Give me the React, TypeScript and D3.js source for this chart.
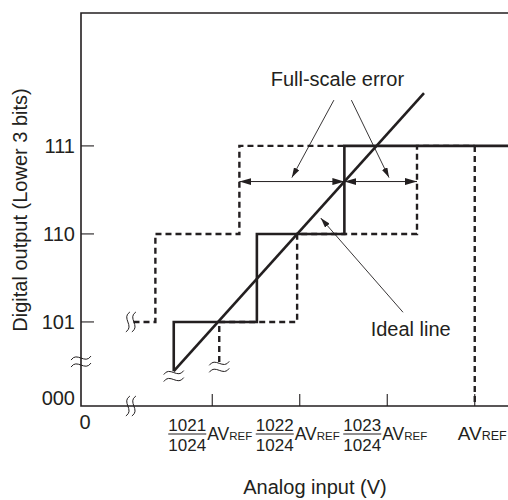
import React, { useEffect, useRef } from 'react';
import * as d3 from 'd3';

// y axis: output codes (step index) and their labels
const codeValues = [5, 6, 7];
const codeLabels = ['101', '110', '111'];

// x axis: analog input in LSB of 1024
const inputTicks = [1021, 1022, 1023, 1024];
const inputNumerators = ['1021', '1022', '1023', ''];

// visible window (axis is broken below it)
const xDomain = [1019.5, 1024.38];
const yDomain = [4.045, 8.51];

// actual characteristic (solid)
const actualX = [1020.56, 1020.56, 1021.51, 1022.51, 1024.38];
const actualCode = [4.44, 5, 6, 7, 7];

// characteristic shifted left (dashed)
const earlyX = [1020.1, 1020.35, 1021.31, 1022.51];
const earlyCode = [5, 6, 7, 7];

// characteristic shifted right (dashed)
const lateX = [1021.08, 1021.08, 1021.97, 1023.34, 1024];
const lateCode = [4.545, 5, 6, 7, 7];

// ideal line
const idealX = [1020.56, 1023.42];
const idealCode = [4.44, 7.6];

// full-scale error spans
const errorSpans = [[1021.31, 1022.51], [1022.51, 1023.34]];
const errorCode = 6.595;

const FONT = "'Liberation Sans', Arial, Helvetica, sans-serif";
const INK = '#231f20';

const App: React.FC = () => {
  const svgRef = useRef<SVGSVGElement | null>(null);
  const width = 508;
  const height = 500;

  useEffect(() => {
    if (!svgRef.current) return;
    const svg = d3.select(svgRef.current);
    svg.selectAll('*').remove();

    const x = d3.scaleLinear().domain(xDomain).range([81, 508]);
    const y = d3.scaleLinear().domain(yDomain).range([406, 13]);
    const x0 = x(xDomain[0]);
    const y0 = y(yDomain[0]);

    const defs = svg.append('defs');
    const mk = (id: string, len: number, half: number) =>
      defs.append('marker')
        .attr('id', id)
        .attr('markerUnits', 'userSpaceOnUse')
        .attr('viewBox', `0 ${-half} ${len} ${half * 2}`)
        .attr('refX', len)
        .attr('refY', 0)
        .attr('markerWidth', len)
        .attr('markerHeight', half * 2)
        .attr('orient', 'auto-start-reverse')
        .append('path')
        .attr('d', `M0,${-half}L${len},0L0,${half}Z`)
        .attr('fill', INK);
    mk('head', 12, 3.5);
    mk('thin', 10, 3);

    // frame
    svg.append('path')
      .attr('d', `M${x(xDomain[1])},${y(yDomain[1])}H${x0}V${y0}H${x(xDomain[1])}`)
      .attr('fill', 'none')
      .attr('stroke', INK)
      .attr('stroke-width', 1.6);

    // y ticks + labels
    codeValues.forEach((c, i) => {
      svg.append('line')
        .attr('x1', x0).attr('x2', x0 + 13)
        .attr('y1', y(c)).attr('y2', y(c))
        .attr('stroke', INK).attr('stroke-width', 1.1);
      svg.append('text')
        .attr('x', x0 - 6).attr('y', y(c) + 7)
        .attr('text-anchor', 'end')
        .attr('font-size', 20).attr('font-family', FONT).attr('fill', INK)
        .text(codeLabels[i]);
    });
    svg.append('text')
      .attr('x', x0 - 6).attr('y', y0 - 1)
      .attr('text-anchor', 'end')
      .attr('font-size', 20).attr('font-family', FONT).attr('fill', INK)
      .text('000');
    svg.append('text')
      .attr('x', x0 + 4).attr('y', y0 + 23)
      .attr('text-anchor', 'middle')
      .attr('font-size', 20).attr('font-family', FONT).attr('fill', INK)
      .text('0');

    // x ticks + labels
    inputTicks.forEach((t, i) => {
      const tx = x(t);
      svg.append('line')
        .attr('x1', tx).attr('x2', tx)
        .attr('y1', y0).attr('y2', y0 - 12)
        .attr('stroke', INK).attr('stroke-width', 1.1);
      const g = svg.append('g').attr('font-family', FONT).attr('fill', INK);
      let avX = tx - 17;
      let avSize = 19;
      let refSize = 12.5;
      if (inputNumerators[i]) {
        const fc = tx - 25;
        g.append('text').attr('x', fc).attr('y', y0 + 25)
          .attr('text-anchor', 'middle').attr('font-size', 17).text(inputNumerators[i]);
        g.append('line').attr('x1', fc - 19).attr('x2', fc + 19)
          .attr('y1', y0 + 28).attr('y2', y0 + 28)
          .attr('stroke', INK).attr('stroke-width', 1.2);
        g.append('text').attr('x', fc).attr('y', y0 + 45)
          .attr('text-anchor', 'middle').attr('font-size', 17).text('1024');
        avX = tx - 5;
        avSize = 17.5;
        refSize = 11.5;
      }
      const av = g.append('text').attr('x', avX).attr('y', y0 + 34).attr('font-size', avSize);
      av.append('tspan').text('AV');
      av.append('tspan').attr('font-size', refSize).text('REF');
    });

    // axis titles
    svg.append('text')
      .attr('x', 315).attr('y', 494)
      .attr('text-anchor', 'middle')
      .attr('font-size', 20).attr('font-family', FONT).attr('fill', INK)
      .text('Analog input (V)');
    svg.append('text')
      .attr('transform', 'translate(27,210) rotate(-90)')
      .attr('text-anchor', 'middle')
      .attr('font-size', 20).attr('font-family', FONT).attr('fill', INK)
      .text('Digital output (Lower 3 bits)');

    const step = d3.line<[number, number]>()
      .x((d) => x(d[0]))
      .y((d) => y(d[1]))
      .curve(d3.curveStepAfter);
    const straight = d3.line<[number, number]>()
      .x((d) => x(d[0]))
      .y((d) => y(d[1]));

    const dashed = (xs: number[], cs: number[]) =>
      svg.append('path')
        .attr('d', step(xs.map((v, i) => [v, cs[i]] as [number, number])))
        .attr('fill', 'none')
        .attr('stroke', INK)
        .attr('stroke-width', 2.4)
        .attr('stroke-dasharray', '6,4');

    dashed(earlyX, earlyCode);
    dashed(lateX, lateCode);
    // full-scale drop at AVREF
    svg.append('path')
      .attr('d', straight([[1024, 7], [1024, yDomain[0]]]))
      .attr('fill', 'none')
      .attr('stroke', INK)
      .attr('stroke-width', 2.4)
      .attr('stroke-dasharray', '6,4');

    // actual characteristic
    svg.append('path')
      .attr('d', step(actualX.map((v, i) => [v, actualCode[i]] as [number, number])))
      .attr('fill', 'none')
      .attr('stroke', INK)
      .attr('stroke-width', 2.6);

    // ideal line
    svg.append('path')
      .attr('d', straight(idealX.map((v, i) => [v, idealCode[i]] as [number, number])))
      .attr('fill', 'none')
      .attr('stroke', INK)
      .attr('stroke-width', 2.6);

    // full-scale error double arrows
    errorSpans.forEach(([a, b]) => {
      svg.append('line')
        .attr('x1', x(a)).attr('x2', x(b))
        .attr('y1', y(errorCode)).attr('y2', y(errorCode))
        .attr('stroke', INK).attr('stroke-width', 1)
        .attr('marker-start', 'url(#head)')
        .attr('marker-end', 'url(#head)');
    });

    // annotations
    const pointer = (from: [number, number], to: [number, number]) =>
      svg.append('line')
        .attr('x1', x(from[0])).attr('y1', y(from[1]))
        .attr('x2', x(to[0])).attr('y2', y(to[1]))
        .attr('stroke', INK).attr('stroke-width', 0.9)
        .attr('marker-end', 'url(#thin)');

    svg.append('text')
      .attr('x', x(1022.43)).attr('y', y(7.68))
      .attr('text-anchor', 'middle')
      .attr('font-size', 20).attr('font-family', FONT).attr('fill', INK)
      .text('Full-scale error');
    pointer([1022.39, 7.52], [1021.91, 6.64]);
    pointer([1022.59, 7.52], [1023.02, 6.64]);

    svg.append('text')
      .attr('x', x(1022.81)).attr('y', y(4.84))
      .attr('font-size', 20).attr('font-family', FONT).attr('fill', INK)
      .text('Ideal line');
    pointer([1023.18, 5.11], [1022.24, 6.18]);

    // axis break marks
    const tilde = (cx: number, cy: number) => {
      [-3.5, 3.5].forEach((o) => {
        svg.append('path')
          .attr('d', `M${cx - 10},${cy + o + 2}C${cx - 4},${cy + o - 7} ${cx + 4},${cy + o + 7} ${cx + 10},${cy + o - 2}`)
          .attr('fill', 'none').attr('stroke', INK).attr('stroke-width', 1);
      });
    };
    const wave = (cx: number, cy: number) => {
      [-3, 3].forEach((o) => {
        svg.append('path')
          .attr('d', `M${cx + o + 2},${cy - 10}C${cx + o - 7},${cy - 4} ${cx + o + 7},${cy + 4} ${cx + o - 2},${cy + 10}`)
          .attr('fill', 'none').attr('stroke', INK).attr('stroke-width', 1);
      });
    };
    tilde(x0, y(4.55));
    wave(x(1020.07), y0);
    wave(x(1020.07), y(5));
    tilde(x(1020.56), y(4.385));
    tilde(x(1021.08), y(4.49));
  }, []);

  return (
    <svg
      ref={svgRef}
      width={width}
      height={height}
      style={{ position: 'absolute', left: 0, top: 0, background: '#fff' }}
    ></svg>
  );
};

export default App;
